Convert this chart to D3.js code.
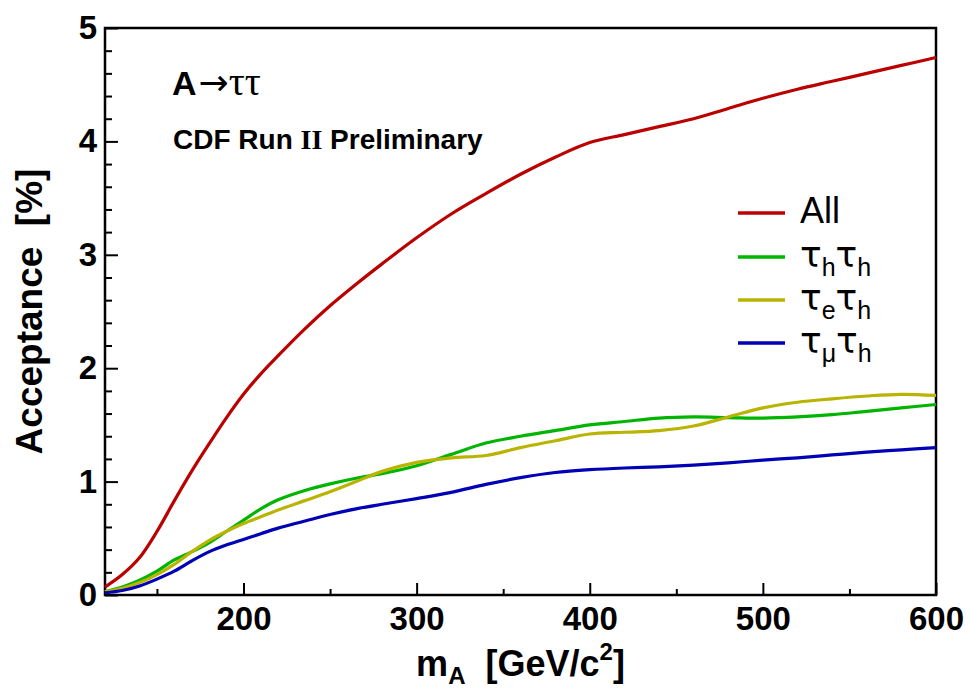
<!DOCTYPE html>
<html><head><meta charset="utf-8">
<script src="https://cdn.jsdelivr.net/npm/d3@7"></script>
<style>
body{margin:0;background:#fff;}
svg{display:block;}
</style></head>
<body>
<svg id="c" width="969" height="691"></svg>
<script>
const masses = [120,130,140,150,160,170,180,190,200,210,220,235,250,265,280,300,320,340,360,380,400,420,440,460,480,500,520,540,560,580,600];
const accAll  = [0.07,0.18,0.33,0.56,0.83,1.09,1.33,1.56,1.77,1.95,2.11,2.34,2.55,2.74,2.92,3.15,3.36,3.54,3.71,3.86,3.99,4.06,4.13,4.20,4.29,4.38,4.46,4.53,4.60,4.67,4.74];
const accHH   = [0.03,0.07,0.13,0.21,0.31,0.38,0.46,0.56,0.66,0.76,0.84,0.92,0.98,1.03,1.07,1.14,1.24,1.34,1.40,1.45,1.50,1.53,1.56,1.57,1.565,1.56,1.57,1.59,1.62,1.65,1.68];
const accEH   = [0.03,0.06,0.11,0.18,0.27,0.38,0.48,0.56,0.63,0.69,0.75,0.83,0.91,1.00,1.09,1.17,1.21,1.23,1.30,1.36,1.42,1.435,1.45,1.49,1.57,1.65,1.70,1.73,1.755,1.77,1.76];
const accMuH  = [0.02,0.04,0.08,0.14,0.21,0.30,0.38,0.44,0.49,0.54,0.59,0.65,0.71,0.76,0.80,0.85,0.905,0.975,1.035,1.08,1.105,1.12,1.13,1.145,1.165,1.19,1.21,1.235,1.26,1.28,1.30];
const seriesNames = ["All","hh","eh","muh"];
const seriesColors = ["#bb0000","#00b400","#b8b400","#0000b4"];
const xMajorTicks = [200,300,400,500,600];
const yMajorTicks = [0,1,2,3,4,5];

const svg = d3.select("#c");
const L=105, R=936, T=28, B=595;
const x = d3.scaleLinear().domain([120,600]).range([L,R]);
const y = d3.scaleLinear().domain([0,5]).range([B,T]);

// frame
svg.append("rect").attr("x",L).attr("y",T).attr("width",R-L).attr("height",B-T)
  .attr("fill","none").attr("stroke","#000").attr("stroke-width",2.5);

// x axis
const xMinor = d3.range(150,600,50).filter(v=>!xMajorTicks.includes(v));
const gx = svg.append("g").attr("transform",`translate(0,${B})`);
gx.call(d3.axisBottom(x).tickValues(xMinor).tickSize(-6).tickFormat(""));
const gx2 = svg.append("g").attr("transform",`translate(0,${B})`);
gx2.call(d3.axisBottom(x).tickValues(xMajorTicks).tickSize(-12).tickPadding(12).tickFormat(d3.format("d")));
[gx,gx2].forEach(g=>{g.select(".domain").remove(); g.selectAll("line").attr("stroke-width",2);});
gx2.selectAll("text").attr("font-family","Liberation Sans, Arial, sans-serif").attr("font-weight","bold").attr("font-size",33).attr("fill","#000");

// y axis
const yMinor = d3.range(0,5.01,0.2).map(v=>+v.toFixed(1)).filter(v=>!yMajorTicks.includes(v));
const gy = svg.append("g").attr("transform",`translate(${L},0)`);
gy.call(d3.axisLeft(y).tickValues(yMinor).tickSize(-7).tickFormat(""));
const gy2 = svg.append("g").attr("transform",`translate(${L},0)`);
gy2.call(d3.axisLeft(y).tickValues(yMajorTicks).tickSize(-13).tickPadding(8).tickFormat(d3.format("d")));
[gy,gy2].forEach(g=>{g.select(".domain").remove(); g.selectAll("line").attr("stroke-width",2);});
gy2.selectAll("text").attr("font-family","Liberation Sans, Arial, sans-serif").attr("font-weight","bold").attr("font-size",33).attr("fill","#000");

// curves
const allSeries = [accAll, accHH, accEH, accMuH];
const line = d3.line().x((d,i)=>x(masses[i])).y(d=>y(d)).curve(d3.curveCatmullRom.alpha(0.5));
const plot = svg.append("g");
[1,2,3,0].forEach(k=>{
  plot.append("path").datum(allSeries[k]).attr("d",line)
    .attr("fill","none").attr("stroke",seriesColors[k]).attr("stroke-width",3.2)
    .attr("stroke-linejoin","round");
});

// axis titles
const xt = svg.append("text").attr("x",(L+R)/2).attr("y",676).attr("text-anchor","middle")
  .attr("font-family","Liberation Sans, Arial, sans-serif").attr("font-weight","bold").attr("font-size",36).attr("fill","#000");
xt.append("tspan").text("m");
xt.append("tspan").text("A").attr("font-size",24).attr("dy",8);
xt.append("tspan").text("\u00a0\u00a0[GeV/c").attr("dy",-8);
xt.append("tspan").text("2").attr("font-size",24).attr("dy",-16);
xt.append("tspan").text("]").attr("dy",16);

svg.append("text").attr("transform",`translate(42,${(T+B)/2}) rotate(-90)`).attr("text-anchor","middle")
  .attr("font-family","Liberation Sans, Arial, sans-serif").attr("font-weight","bold").attr("font-size",37).attr("fill","#000")
  .text("Acceptance\u00a0\u00a0[%]");

// annotations
const t1 = svg.append("text").attr("x",172).attr("y",95).attr("fill","#000");
t1.append("tspan").text("A").attr("font-family","Liberation Sans, Arial, sans-serif").attr("font-weight","bold").attr("font-size",34);
t1.append("tspan").text("\u2192").attr("font-family","DejaVu Sans, sans-serif").attr("font-size",36).attr("dx",2);
t1.append("tspan").text("\u03c4\u03c4").attr("font-family","Liberation Serif, Times New Roman, serif").attr("font-size",40);

const t2 = svg.append("text").attr("x",173).attr("y",149).attr("fill","#000")
  .attr("font-weight","bold").attr("font-size",28).attr("font-family","Liberation Sans, Arial, sans-serif");
t2.append("tspan").text("CDF Run ");
t2.append("tspan").text("II").attr("font-family","Liberation Serif, Times New Roman, serif");
t2.append("tspan").text(" Preliminary");

// legend
const legY = [213,257,300,343];
const legLabels = [
  [["All",null]],
  [["\u03c4",null],["h","sub"],["\u03c4",null],["h","sub"]],
  [["\u03c4",null],["e","sub"],["\u03c4",null],["h","sub"]],
  [["\u03c4",null],["\u03bc","sub"],["\u03c4",null],["h","sub"]]
];
legY.forEach((ly,k)=>{
  svg.append("line").attr("x1",738).attr("x2",785).attr("y1",ly).attr("y2",ly)
    .attr("stroke",seriesColors[k]).attr("stroke-width",3.5);
  const t = svg.append("text").attr("x",800).attr("y",ly+10).attr("fill","#000")
    .attr("font-family","Liberation Sans, Arial, sans-serif").attr("font-size",36);
  let sub=false;
  legLabels[k].forEach(([s,kind])=>{
    const ts = t.append("tspan").text(s);
    if(kind==="sub"){ ts.attr("font-size",25).attr("dy",sub?0:9); sub=true; }
    else { ts.attr("dy",sub?-9:0); sub=false; if(s==="\u03c4") ts.attr("font-family","DejaVu Sans, sans-serif"); }
  });
});
</script>
</body></html>
